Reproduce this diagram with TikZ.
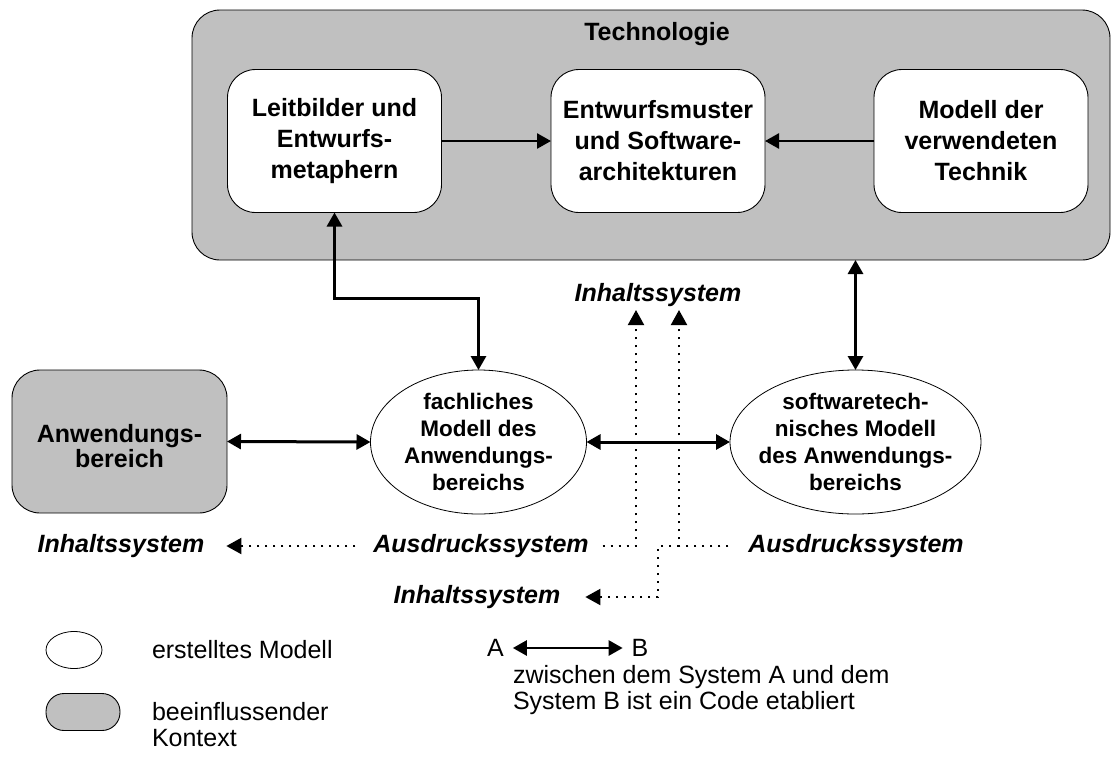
\documentclass[tikz,border=0pt]{standalone}
\usepackage{fontspec}
\setmainfont{Liberation Sans}
\usetikzlibrary{arrows.meta,shapes.geometric,calc}
\definecolor{ctxgray}{RGB}{192,192,192}

\begin{document}
\begin{tikzpicture}[x=1pt,y=-1pt,
  every node/.style={outer sep=0pt},
  ctx/.style={draw=black, line width=0.9pt, fill=ctxgray, rounded corners=28pt},
  tbox/.style={draw=black, line width=0.9pt, fill=white, rounded corners=28pt,
    minimum width=214pt, minimum height=143pt, align=center,
    font=\bfseries\fontsize{25}{31}\selectfont},
  model/.style={draw=black, line width=0.8pt, fill=white, ellipse, inner sep=0pt},
  modeltext/.style={align=center, inner sep=0pt, font=\bfseries\fontsize{22.5}{27}\selectfont},
  code/.style={line width=3pt, {Triangle[length=14pt,width=15pt]}-{Triangle[length=14pt,width=15pt]}},
  flow/.style={line width=2.6pt, -{Triangle[length=14pt,width=15pt]}},
  sys/.style={font=\bfseries\itshape\fontsize{25}{30}\selectfont, inner sep=0pt},
  dots/.style={line width=2pt, dash pattern=on 2pt off 6pt, -{Triangle[length=15pt,width=16pt]}},
  legend/.style={font=\fontsize{25}{26}\selectfont, align=left, inner sep=0pt}
]
\useasboundingbox (0,0) rectangle (1117,780);

% Technologie frame with its three parts
\node[ctx, anchor=north west, minimum width=918pt, minimum height=250pt] (tech) at (192,10) {};
\node[font=\bfseries\fontsize{25}{30}\selectfont] (techtitle) at (657,34) {Technologie};
\node[tbox] (leit) at (334.5,141) {Leitbilder und\\Entwurfs-\\metaphern};
\node[tbox] (muster) at (658,141) {Entwurfsmuster\\und Software-\\architekturen};
\node[tbox] (technik) at (981,141) {Modell der\\verwendeten\\Technik};

\draw[flow] (leit.east) -- (muster.west);
\draw[flow] (technik.west) -- (muster.east);

% application domain and the two models
\node[ctx, minimum width=215pt, minimum height=143pt] (anw) at (119.5,441.5) {};
\node[align=center, inner sep=0pt, font=\bfseries\fontsize{25}{25}\selectfont]
  (anwtext) at (119.5,446) {Anwendungs-\\bereich};
\node[model, minimum width=216pt, minimum height=144pt] (fach) at (478.5,442) {};
\node[modeltext] (fachtext) at (fach.center) {fachliches\\Modell des\\Anwendungs-\\bereichs};
\node[model, minimum width=251pt, minimum height=144pt] (soft) at (855.5,442) {};
\node[modeltext] (softtext) at (soft.center) {softwaretech-\\nisches Modell\\des Anwendungs-\\bereichs};

\draw[code] (anw.east) -- (fach.west);
\draw[code] (fach.east) -- (soft.west);
\draw[code] (leit.south) -- ++(0,86) -| (fach.north);
\draw[code] (tech.south -| soft.north) -- (soft.north);

% content and expression systems
\node[sys] (inhT) at (658,295) {Inhaltssystem};
\node[sys] (inhL) at (121,546) {Inhaltssystem};
\node[sys] (ausL) at (481,546) {Ausdruckssystem};
\node[sys] (ausR) at (856,546) {Ausdruckssystem};
\node[sys] (inhB) at (477,597) {Inhaltssystem};

\coordinate (tipA) at (636,310);
\coordinate (tipB) at (679,310);
\coordinate (joint) at (679,546);
\coordinate (drop) at (658,546);

\draw[dots] ([xshift=-18pt]ausL.west) -- ([xshift=22pt]inhL.east);
\draw[dots] ([xshift=14pt]ausL.east) -| (tipA);
\draw[dots] ([xshift=-20pt]ausR.west) -| (tipB);
\draw[dots] (joint) -- (drop) |- ([xshift=25pt]inhB.east);

% legend
\node[model, minimum width=56pt, minimum height=37pt] (legmod) at (74,650) {};
\node[legend, anchor=west] (legmodtxt) at (152,650) {erstelltes Modell};
\node[ctx, rounded corners=18pt, minimum width=74pt, minimum height=37pt] (legctx) at (83,712) {};
\node[legend, anchor=west] (legctxtxt) at (152,724.5) {beeinflussender\\Kontext};

\node[legend] (sysA) at (495.5,648) {A};
\node[legend] (sysB) at (640,648) {B};
\draw[code, line width=2.6pt, shorten <=9pt, shorten >=9pt] (sysA.east) -- (sysB.west);
\node[legend, anchor=west] (codetxt) at (513,690) {zwischen dem System A und dem\\System B ist ein Code etabliert};
\end{tikzpicture}
\end{document}
